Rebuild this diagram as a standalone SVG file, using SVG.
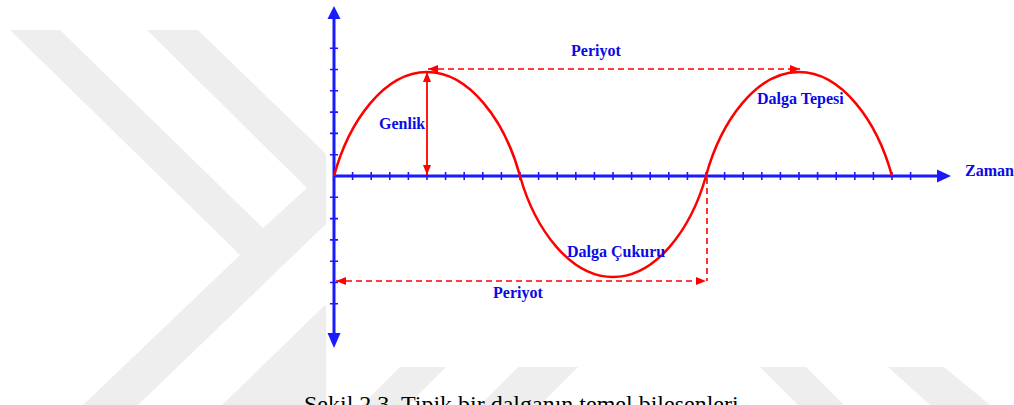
<svg xmlns="http://www.w3.org/2000/svg" width="1014" height="405" viewBox="0 0 1014 405">
<style>
.wm{fill:#eeeeee}
.ax{stroke:#1a1aff;stroke-width:3;fill:none}
.tk{stroke:#1a1aff;stroke-width:1.6}
.lbl{font-family:"Liberation Serif","Times New Roman",serif;font-weight:bold;font-size:16px;fill:#0a0ae6}
.dash{stroke:#ff0000;stroke-width:1.6;stroke-dasharray:6,4;fill:none}
.cap{font-family:"Liberation Serif","Times New Roman",serif;font-size:24px;fill:#000}
</style>
<defs>
<marker id="ah" viewBox="0 0 10 8" refX="10" refY="4" markerWidth="10" markerHeight="8" markerUnits="userSpaceOnUse" orient="auto-start-reverse"><path d="M0,0 L10,4 L0,8 Z" fill="#ff0000"/></marker>
</defs>
<rect width="1014" height="405" fill="#ffffff"/>
<g id="watermark">
<polygon class="wm" points="10,30 198,30 326,154 326,405 83,405 240,255"/>
<polygon fill="#ffffff" points="60,30 147,30 307,188 263,228"/>
<polygon fill="#ffffff" points="138,405 222,405 326,304 326,224"/>
<rect x="326" y="0" width="688" height="367" fill="#ffffff"/>
<polygon class="wm" points="400,367 446,367 408,405 362,405"/>
<polygon class="wm" points="518,367 578,367 540,405 480,405"/>
<polygon class="wm" points="760,367 806,367 844,405 798,405"/>
<polygon class="wm" points="888,367 944,367 990,405 930,405"/>
</g>
<g id="axes">
<line class="ax" x1="334" y1="16" x2="334" y2="337"/>
<polygon points="334,6 327.5,19 340.5,19" fill="#1a1aff"/>
<polygon points="334,348 327.5,333 340.5,333" fill="#1a1aff"/>
<line class="ax" x1="334" y1="176" x2="940" y2="176"/>
<polygon points="951,176 937,169.5 937,182.5" fill="#1a1aff"/>
<path class="tk" d="M352.6,172v8M371.2,172v8M389.8,172v8M408.4,172v8M427,172v8M445.6,172v8M464.2,172v8M482.8,172v8M501.4,172v8M520,172v8M538.6,172v8M557.2,172v8M575.8,172v8M594.4,172v8M613,172v8M631.6,172v8M650.2,172v8M668.8,172v8M687.4,172v8M706,172v8M724.6,172v8M743.2,172v8M761.8,172v8M780.4,172v8M799,172v8M817.6,172v8M836.2,172v8M854.8,172v8M873.4,172v8M892,172v8M910.6,172v8"/>
<path class="tk" d="M330,154.7h8M330,133.4h8M330,112.1h8M330,90.8h8M330,69.5h8M330,48.2h8M330,197.3h8M330,218.6h8M330,239.9h8M330,261.2h8M330,282.5h8M330,303.8h8"/>
</g>
<g id="wave">
<path d="M334,176 C349,121 384.5,72 427,72 C469.5,72 505,121 520,176 C535,229.5 570.5,277 613,277 C655.5,277 691,229.5 706,176 C721,121 756.5,72 799,72 C841.5,72 877,121 892,176" fill="none" stroke="#ff0000" stroke-width="2.5"/>
</g>
<g id="connectors">
<line x1="427" y1="72" x2="427" y2="175" stroke="#ff0000" stroke-width="1.8" marker-start="url(#ah)" marker-end="url(#ah)"/>
<line class="dash" x1="428" y1="69" x2="800" y2="69" marker-start="url(#ah)" marker-end="url(#ah)"/>
<line class="dash" x1="336" y1="281" x2="706" y2="281" marker-start="url(#ah)" marker-end="url(#ah)"/>
<line class="dash" x1="707" y1="178" x2="707" y2="281"/>
</g>
<g id="label-periyot-top"><text class="lbl" x="571" y="56">Periyot</text></g>
<g id="label-genlik"><text class="lbl" x="379" y="129">Genlik</text></g>
<g id="label-tepe"><text class="lbl" x="757" y="104">Dalga Tepesi</text></g>
<g id="label-cukur"><text class="lbl" x="567" y="257">Dalga Çukuru</text></g>
<g id="label-periyot-bottom"><text class="lbl" x="493" y="298">Periyot</text></g>
<g id="label-zaman"><text class="lbl" x="965" y="176">Zaman</text></g>
<g id="caption"><text class="cap" x="304" y="412">Şekil 2.3. Tipik bir dalganın temel bileşenleri</text></g>
</svg>
